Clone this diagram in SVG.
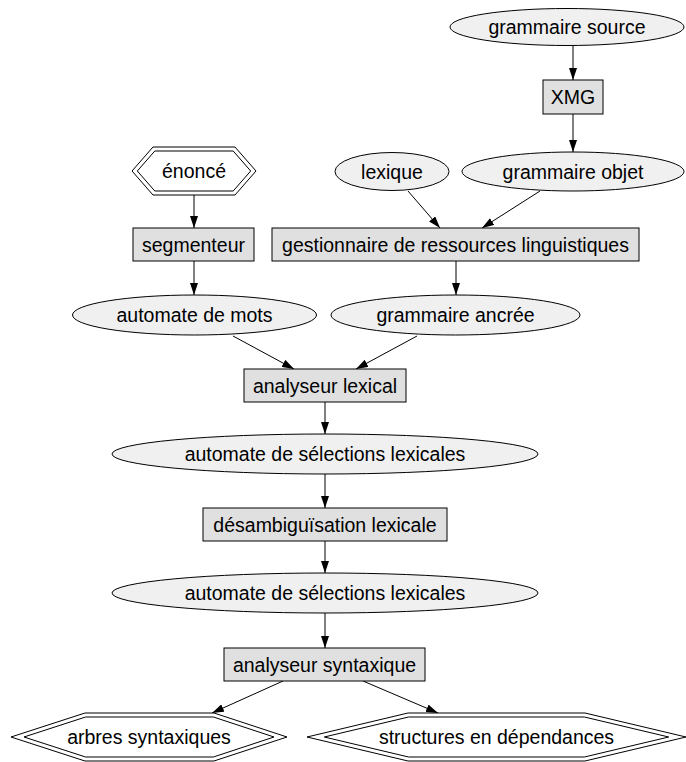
<svg xmlns="http://www.w3.org/2000/svg" width="686" height="762" viewBox="0 0 686 762">
<defs>
<style>
text{font-family:"Liberation Sans",Arial,sans-serif;font-size:19.5px;fill:#000;text-anchor:middle}
.el{fill:#f0f0f0;stroke:#000;stroke-width:1}
.bx{fill:#e0e0e0;stroke:#000;stroke-width:1}
.hx{fill:#fff;stroke:#000;stroke-width:1}
.ed{fill:none;stroke:#000;stroke-width:1;marker-end:url(#ah)}
</style>
<marker id="ah" viewBox="0 0 12 8" refX="12" refY="4" markerWidth="12" markerHeight="8" orient="auto" markerUnits="userSpaceOnUse"><path d="M0,0 L12,4 L0,8 z" fill="#000"/></marker>
</defs>
<rect width="686" height="762" fill="#fff"/>
<g id="connectors">
<line class="ed" x1="573" y1="45" x2="573" y2="80"/>
<line class="ed" x1="573" y1="114" x2="573" y2="152"/>
<line class="ed" x1="194" y1="195" x2="194" y2="228"/>
<line class="ed" x1="408" y1="191" x2="440" y2="228"/>
<line class="ed" x1="540" y1="191" x2="482" y2="228"/>
<line class="ed" x1="194" y1="261" x2="194" y2="295"/>
<line class="ed" x1="456" y1="261" x2="456" y2="295"/>
<line class="ed" x1="233" y1="336" x2="294" y2="369"/>
<line class="ed" x1="417" y1="336" x2="356" y2="369"/>
<line class="ed" x1="325" y1="402" x2="325" y2="434"/>
<line class="ed" x1="325" y1="474" x2="325" y2="508"/>
<line class="ed" x1="325" y1="541" x2="325" y2="573"/>
<line class="ed" x1="325" y1="613" x2="325" y2="648"/>
<line class="ed" x1="283" y1="681" x2="212" y2="713"/>
<line class="ed" x1="363" y1="681" x2="438" y2="713"/>
</g>
<g id="grammaire_source"><ellipse class="el" cx="567" cy="27" rx="117" ry="18.5"/><text x="567" y="34">grammaire source</text></g>
<g id="xmg"><rect class="bx" x="543" y="80" width="60" height="34"/><text x="573" y="104">XMG</text></g>
<g id="enonce">
<polygon class="hx" points="132,171 153,147 235,147 256,171 235,195 153,195"/>
<polygon class="hx" points="137.3,171 154.8,151 233.2,151 250.7,171 233.2,191 154.8,191"/>
<text x="194" y="178">énoncé</text></g>
<g id="lexique"><ellipse class="el" cx="392" cy="171.5" rx="57" ry="19"/><text x="392" y="178.5">lexique</text></g>
<g id="grammaire_objet"><ellipse class="el" cx="573" cy="171.5" rx="111" ry="19.5"/><text x="573" y="178.5">grammaire objet</text></g>
<g id="segmenteur"><rect class="bx" x="133" y="228" width="121" height="33"/><text x="193.5" y="251.5">segmenteur</text></g>
<g id="gestionnaire"><rect class="bx" x="272" y="228" width="367" height="33"/><text x="455.5" y="251.5">gestionnaire de ressources linguistiques</text></g>
<g id="automate_mots"><ellipse class="el" cx="194.5" cy="315" rx="122" ry="20"/><text x="194.5" y="322">automate de mots</text></g>
<g id="grammaire_ancree"><ellipse class="el" cx="455.5" cy="315" rx="124.5" ry="20"/><text x="455.5" y="322">grammaire ancrée</text></g>
<g id="analyseur_lexical"><rect class="bx" x="244" y="369" width="162" height="33"/><text x="325" y="392.5">analyseur lexical</text></g>
<g id="automate_sel1"><ellipse class="el" cx="325" cy="454" rx="213" ry="20"/><text x="325" y="461">automate de sélections lexicales</text></g>
<g id="desambiguisation"><rect class="bx" x="203" y="508" width="244" height="33"/><text x="325" y="531.5">désambiguïsation lexicale</text></g>
<g id="automate_sel2"><ellipse class="el" cx="325" cy="593" rx="213" ry="20"/><text x="325" y="600">automate de sélections lexicales</text></g>
<g id="analyseur_syntaxique"><rect class="bx" x="224" y="648" width="201" height="33"/><text x="324.5" y="671.5">analyseur syntaxique</text></g>
<g id="arbres">
<polygon class="hx" points="11,737 85,713 214,713 287,737 214,761 85,761"/>
<polygon class="hx" points="24,737 85.6,717 213.4,717 274,737 213.4,757 85.6,757"/>
<text x="149" y="744">arbres syntaxiques</text></g>
<g id="structures">
<polygon class="hx" points="307,737 408,713 585,713 686,737 585,761 408,761"/>
<polygon class="hx" points="324.3,737 408.6,717 584.4,717 668.7,737 584.4,757 408.6,757"/>
<text x="496.5" y="744">structures en dépendances</text></g>
</svg>
